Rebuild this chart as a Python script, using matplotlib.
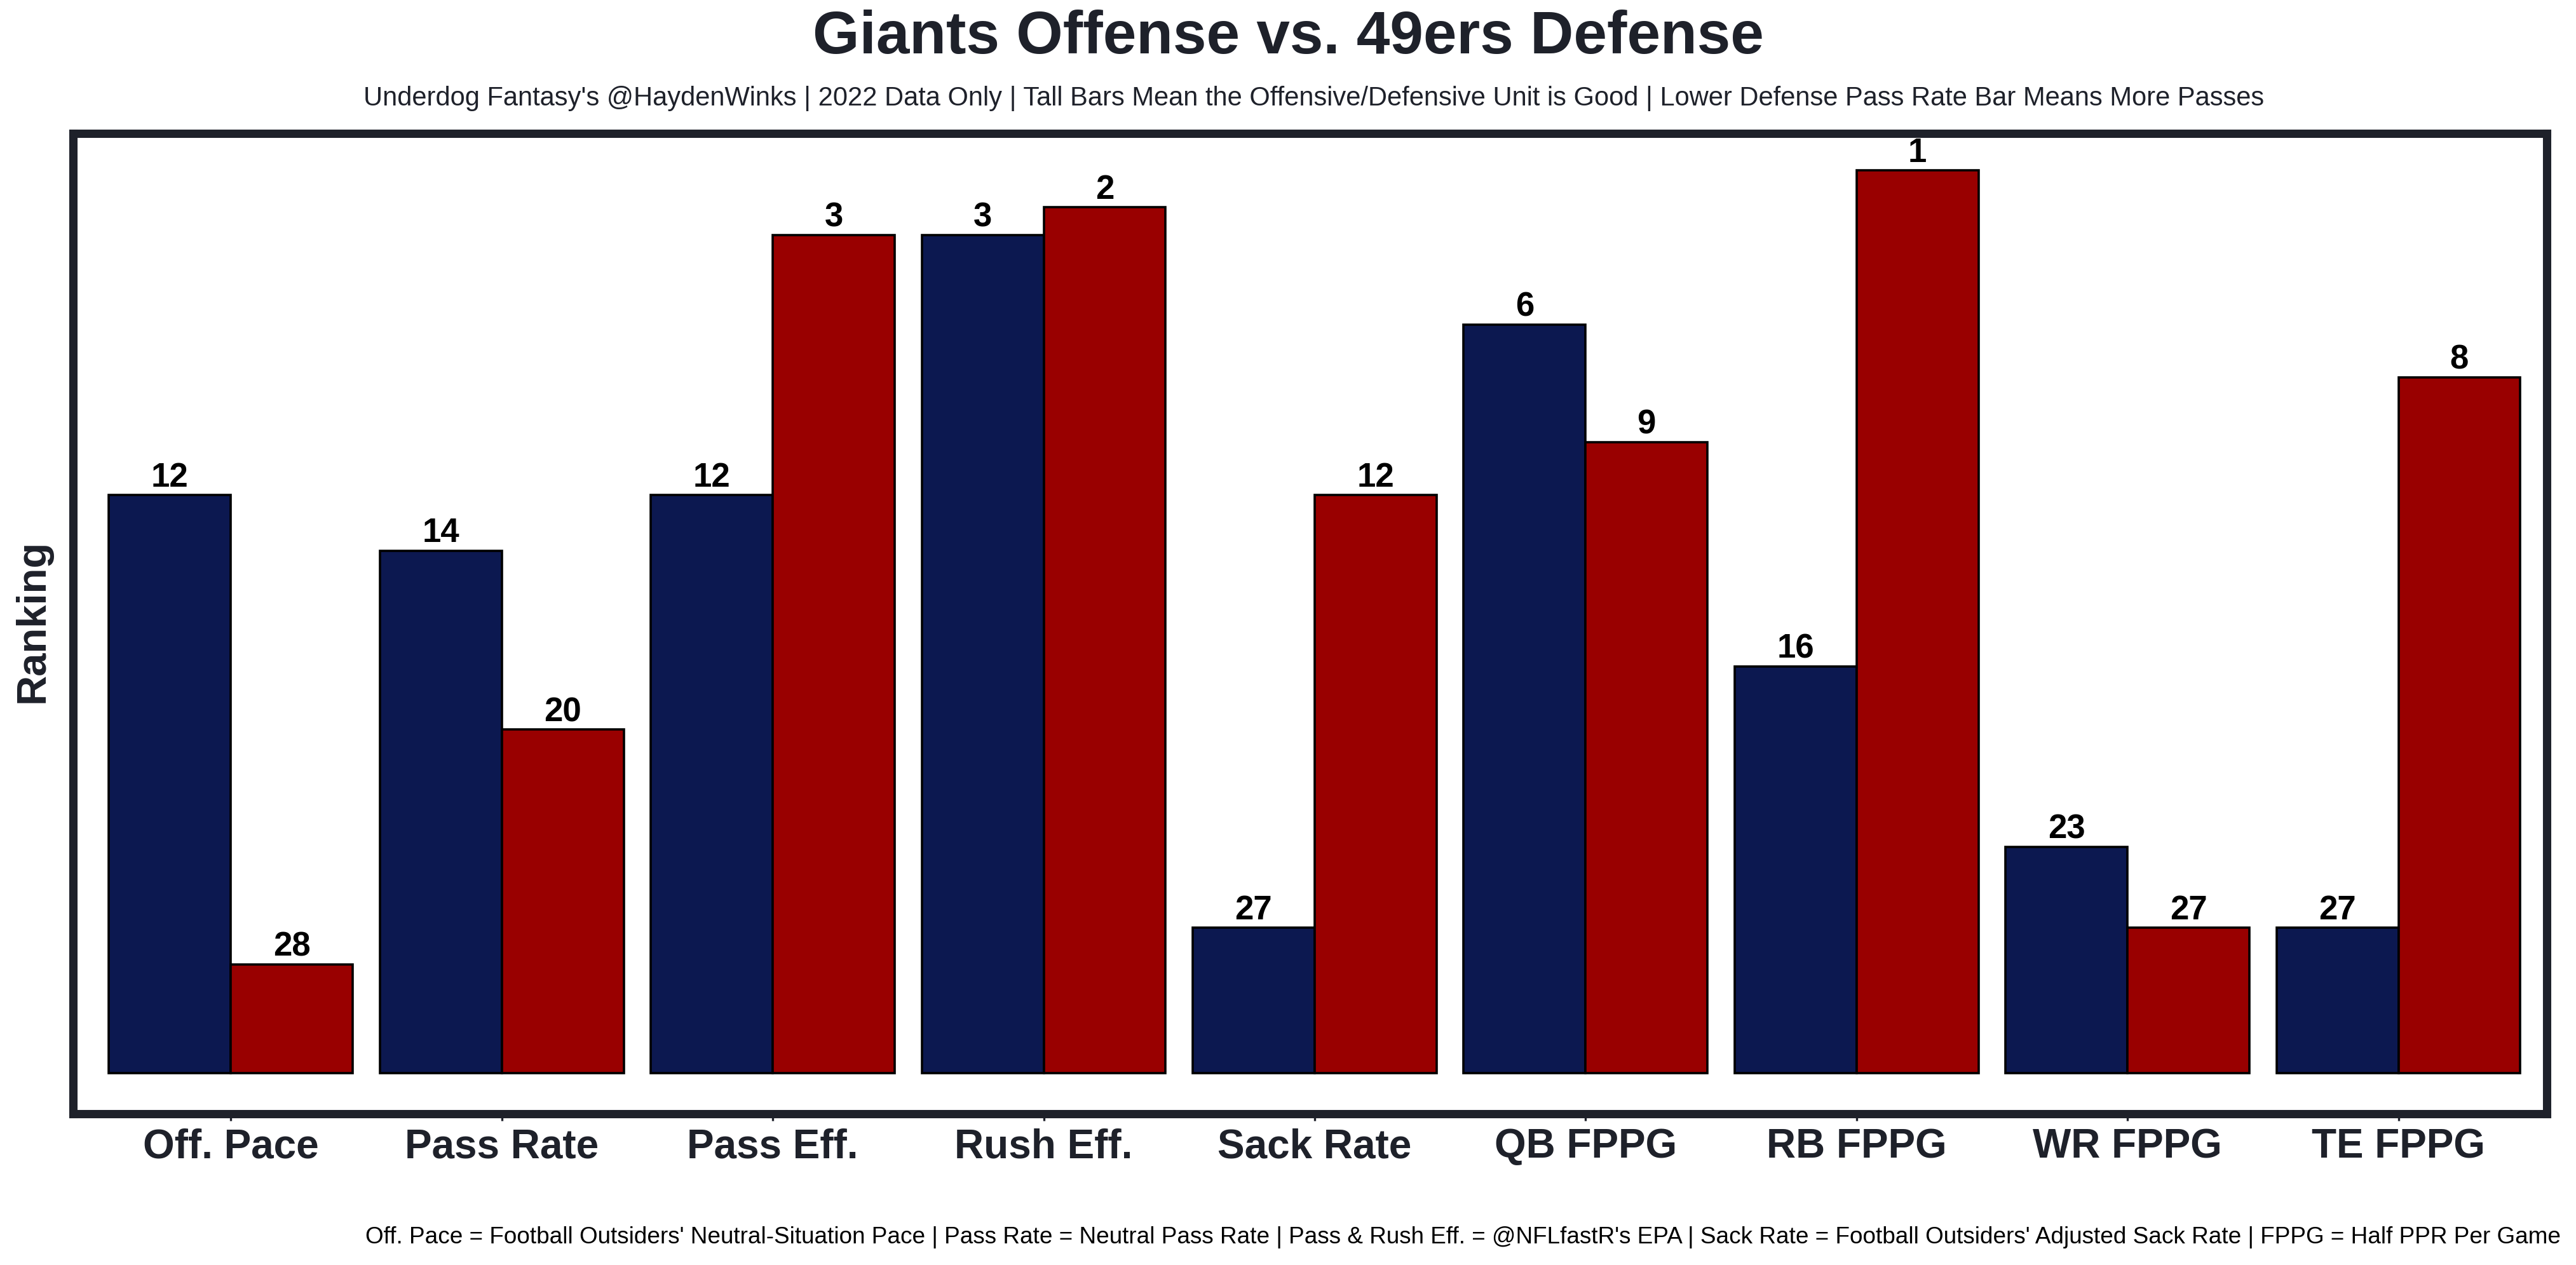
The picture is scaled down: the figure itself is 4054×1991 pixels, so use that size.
import numpy as np
import matplotlib
matplotlib.use("Agg")
import matplotlib.pyplot as plt

# data
categories = ["Off. Pace", "Pass Rate", "Pass Eff.", "Rush Eff.", "Sack Rate",
              "QB FPPG", "RB FPPG", "WR FPPG", "TE FPPG"]
offense_rank = [12, 14, 12, 3, 27, 6, 16, 23, 27]   # Giants offense (labels)
defense_rank = [28, 20, 3, 2, 12, 9, 1, 27, 8]      # 49ers defense (labels)
# bar heights (taller = better)
offense_bar = [19.7, 17.8, 19.7, 28.55, 4.95, 25.5, 13.85, 7.7, 4.95]
defense_bar = [3.7, 11.7, 28.55, 29.5, 19.7, 21.5, 30.75, 4.95, 23.7]

title = "Giants Offense vs. 49ers Defense"
subtitle = ("Underdog Fantasy's @HaydenWinks | 2022 Data Only | Tall Bars Mean the "
            "Offensive/Defensive Unit is Good | Lower Defense Pass Rate Bar Means More Passes")
footer = ("Off. Pace = Football Outsiders' Neutral-Situation Pace | Pass Rate = Neutral Pass Rate | "
          "Pass & Rush Eff. = @NFLfastR's EPA | Sack Rate = Football Outsiders' Adjusted Sack Rate | "
          "FPPG = Half PPR Per Game")

navy = "#0c1850"
red = "#990000"
dark = "#1e212a"

plt.rcParams['font.family'] = ['Liberation Sans', 'DejaVu Sans']

fig = plt.figure(figsize=(20.27, 9.955), dpi=200)
ax = fig.add_axes([0.0284, 0.1195, 0.9887 - 0.0284, 0.8945 - 0.1195])

x = np.arange(len(categories))
w = 0.45

b1 = ax.bar(x - w / 2, offense_bar, w, color=navy, edgecolor="black", linewidth=1.3)
b2 = ax.bar(x + w / 2, defense_bar, w, color=red, edgecolor="black", linewidth=1.3)

for bars, ranks in [(b1, offense_rank), (b2, defense_rank)]:
    for b, r in zip(bars, ranks):
        ax.text(b.get_x() + b.get_width() / 2, b.get_height() + 0.05, str(r),
                ha="center", va="bottom", fontsize=19, fontweight="bold", color="black")

ax.set_xlim(-0.582, 8.548)
ax.set_ylim(-1.385, 32.01)
ax.set_xticks(x)
ax.set_xticklabels(categories, fontsize=23, fontweight="bold", color=dark)
ax.set_yticks([])
ax.tick_params(axis="x", length=4, width=1.2, color=dark, pad=4)

for s in ax.spines.values():
    s.set_linewidth(4.7)
    s.set_color(dark)

fig.text(0.0128, 0.509, "Ranking", rotation=90, ha="center", va="center",
         fontsize=23.5, fontweight="bold", color=dark)

fig.text(0.5, 0.970, title, ha="center", va="center", fontsize=34,
         fontweight="bold", color=dark)
fig.text(0.510, 0.922, subtitle, ha="center", va="center", fontsize=15, color=dark)
fig.text(0.994, 0.022, footer, ha="right", va="center", fontsize=13.3, color="black")

fig.savefig("out.png", dpi=200, facecolor="white")
